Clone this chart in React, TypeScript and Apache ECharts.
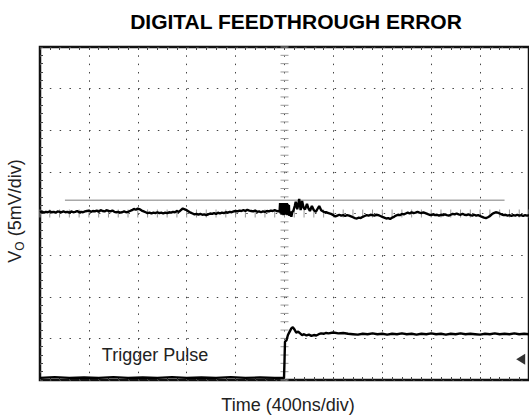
import React, { useEffect, useRef } from "react";
import * as echarts from "echarts";

// x in divisions (400 ns/div), y in divisions (5 mV/div), bottom of screen = 0
const voTrace: number[][] = [
  [0.00,4.03],[0.04,4.05],[0.08,4.02],[0.12,4.04],[0.16,4.03],[0.20,4.05],[0.24,4.03],[0.28,4.04],[0.32,4.02],[0.36,4.05],
  [0.40,4.04],[0.44,4.03],[0.48,4.05],[0.52,4.03],[0.56,4.04],[0.60,4.02],[0.64,4.05],[0.68,4.03],[0.72,4.04],[0.76,4.06],
  [0.80,4.03],[0.84,4.04],[0.88,4.03],[0.92,4.05],[0.96,4.06],[1.00,4.07],[1.04,4.04],[1.08,4.06],[1.12,4.05],[1.16,4.07],
  [1.20,4.04],[1.24,4.08],[1.28,4.06],[1.32,4.05],[1.36,4.08],[1.40,4.06],[1.44,4.05],[1.48,4.07],[1.52,4.04],[1.56,4.03],
  [1.60,4.04],[1.64,4.02],[1.68,4.03],[1.72,4.05],[1.76,4.03],[1.80,4.04],[1.84,4.06],[1.88,4.08],[1.92,4.11],[1.96,4.09],
  [2.00,4.12],[2.04,4.10],[2.08,4.07],[2.12,4.05],[2.16,4.03],[2.20,4.01],[2.24,4.02],[2.28,4.00],[2.32,4.02],[2.36,4.01],
  [2.40,4.03],[2.44,4.01],[2.48,4.02],[2.52,4.00],[2.56,4.02],[2.60,4.01],[2.64,4.03],[2.68,4.02],[2.72,4.04],[2.76,4.03],
  [2.80,4.06],[2.84,4.04],[2.88,4.08],[2.92,4.12],[2.96,4.10],[3.00,4.08],[3.04,4.05],[3.08,4.02],[3.12,4.00],[3.16,3.98],
  [3.20,3.99],[3.24,3.97],[3.28,3.99],[3.32,3.97],[3.36,3.98],[3.40,3.96],[3.44,3.98],[3.48,4.00],[3.52,3.99],[3.56,4.01],
  [3.60,3.99],[3.64,4.02],[3.68,4.00],[3.72,4.02],[3.76,4.01],[3.80,4.03],[3.84,4.02],[3.88,4.04],[3.92,4.03],[3.96,4.05],
  [4.00,4.06],[4.04,4.05],[4.08,4.07],[4.12,4.06],[4.16,4.08],[4.20,4.06],[4.24,4.09],[4.28,4.07],[4.32,4.06],[4.36,4.05],
  [4.40,4.07],[4.44,4.04],[4.48,4.05],[4.52,4.03],[4.56,4.05],[4.60,4.04],[4.64,4.06],[4.68,4.05],[4.72,4.07],[4.76,4.06],
  [4.80,4.08],[4.84,4.06],[4.88,4.05],[4.90,4.06],
  [4.91,4.25],[4.92,4.00],[4.93,4.25],[4.94,3.97],[4.95,4.24],[4.96,4.02],[4.97,4.25],[4.98,3.96],[4.99,4.24],[5.00,4.00],
  [5.01,4.25],[5.02,3.97],[5.03,4.23],[5.04,4.01],[5.05,4.25],[5.06,3.96],[5.07,4.22],[5.08,3.98],[5.09,4.20],[5.10,3.94],
  [5.12,4.05],[5.14,3.92],[5.16,4.04],
  [5.18,4.06],[5.21,4.18],[5.23,4.28],[5.26,4.10],[5.28,4.20],[5.30,4.35],[5.33,4.08],[5.36,4.30],[5.39,4.14],[5.42,4.10],
  [5.46,4.23],[5.49,4.12],[5.52,4.06],[5.56,4.18],[5.60,4.08],[5.64,4.04],[5.68,4.12],[5.71,4.18],[5.75,4.08],[5.80,4.04],
  [5.85,4.03],[5.90,4.01],[5.95,3.99],[6.00,3.96],[6.04,3.93],
  [6.08,3.95],[6.12,3.97],[6.16,3.95],[6.20,3.96],[6.24,3.94],[6.28,3.96],[6.32,3.95],[6.36,3.93],[6.40,3.91],[6.44,3.89],
  [6.48,3.88],[6.52,3.90],[6.56,3.89],[6.60,3.92],[6.64,3.94],[6.68,3.96],[6.72,3.95],[6.76,3.97],[6.80,3.96],[6.84,3.95],
  [6.88,3.97],[6.92,3.96],[6.96,3.94],[7.00,3.92],[7.04,3.90],[7.08,3.88],[7.12,3.89],[7.16,3.87],[7.20,3.90],[7.24,3.92],
  [7.28,3.95],[7.32,3.97],[7.36,3.96],[7.40,3.99],[7.44,3.98],[7.48,4.00],[7.52,4.02],[7.56,4.00],[7.60,4.03],[7.64,4.01],
  [7.68,4.02],[7.72,4.04],[7.76,4.02],[7.80,4.01],[7.84,4.03],[7.88,4.01],[7.92,3.99],[7.96,3.97],[8.00,3.96],[8.04,3.98],
  [8.08,3.96],[8.12,3.97],[8.16,3.95],[8.20,3.97],[8.24,3.96],[8.28,3.98],[8.32,3.96],[8.36,3.95],[8.40,3.97],[8.44,3.99],
  [8.48,3.98],[8.52,4.00],[8.56,3.98],[8.60,3.97],[8.64,3.99],[8.68,3.97],[8.72,3.96],[8.76,3.98],[8.80,3.96],[8.84,3.95],
  [8.88,3.97],[8.92,3.95],[8.96,3.96],[9.00,3.94],[9.04,3.92],[9.08,3.90],[9.12,3.89],[9.16,3.91],[9.20,3.94],[9.24,3.98],
  [9.28,4.01],[9.32,4.03],[9.36,4.02],[9.40,4.00],[9.44,3.98],[9.48,3.96],[9.52,3.97],[9.56,3.95],[9.60,3.96],[9.64,3.94],
  [9.68,3.96],[9.72,3.95],[9.76,3.97],[9.80,3.95],[9.84,3.96],[9.88,3.94],[9.92,3.96],[9.96,3.95],[10.00,3.96],
];

const triggerTrace: number[][] = [
  [0.0,0.05],[0.3,0.07],[0.6,0.05],[0.9,0.06],[1.2,0.05],[1.5,0.07],[1.8,0.05],[2.1,0.06],[2.4,0.05],[2.7,0.07],
  [3.0,0.05],[3.3,0.06],[3.6,0.05],[3.9,0.07],[4.2,0.05],[4.5,0.06],[4.8,0.05],[4.99,0.05],
  [5.00,0.45],[5.01,0.92],[5.04,0.95],[5.07,1.08],[5.10,1.15],[5.14,1.24],[5.17,1.27],[5.20,1.22],[5.24,1.14],[5.28,1.16],
  [5.32,1.12],[5.36,1.08],[5.40,1.10],[5.45,1.07],[5.50,1.09],[5.55,1.06],[5.60,1.08],[5.65,1.07],[5.70,1.10],[5.75,1.12],
  [5.80,1.11],[5.85,1.13],[5.90,1.12],[6.0,1.14],[6.1,1.12],[6.2,1.13],[6.3,1.11],[6.4,1.10],[6.5,1.09],[6.6,1.11],
  [6.7,1.10],[6.8,1.12],[6.9,1.10],[7.0,1.11],[7.1,1.09],[7.2,1.11],[7.3,1.10],[7.4,1.12],[7.5,1.10],[7.6,1.11],
  [7.7,1.09],[7.8,1.11],[7.9,1.10],[8.0,1.12],[8.1,1.10],[8.2,1.11],[8.3,1.09],[8.4,1.11],[8.5,1.10],[8.6,1.12],
  [8.7,1.10],[8.8,1.11],[8.9,1.10],[9.0,1.09],[9.1,1.11],[9.2,1.10],[9.3,1.12],[9.4,1.10],[9.5,1.11],[9.6,1.10],
  [9.7,1.12],[9.8,1.10],[9.9,1.11],[10.0,1.10],
];

const referenceLine: number[][] = [[0.51, 4.32], [9.5, 4.32]];
const groundMarker: number[][] = [[9.83, 0.5]];
const screenCenter: number[][] = [[5, 4]];

const TITLE = "DIGITAL FEEDTHROUGH ERROR";
const X_LABEL = "Time (400ns/div)";
const TRIGGER_LABEL = "Trigger Pulse";

const FONT = "'Liberation Sans', Arial, Helvetica, sans-serif";

export default function App() {
  const ref = useRef<HTMLDivElement>(null);
  useEffect(() => {
    if (!ref.current) return;
    const chart = echarts.init(ref.current, null, { renderer: "svg" });
    const option: any = {
      animation: false,
      backgroundColor: "#fff",
      grid: {
        left: 40,
        top: 47,
        width: 491,
        height: 333,
        show: true,
        borderColor: "#111",
        borderWidth: 2.5,
        backgroundColor: "transparent",
      },
      xAxis: [
        {
          type: "value",
          min: 0,
          max: 10,
          interval: 1,
          position: "bottom",
          axisLine: { show: false },
          axisLabel: { show: false },
          axisTick: { show: true, inside: true, length: 3, lineStyle: { color: "#444" } },
          minorTick: { show: true, splitNumber: 5, length: 3, lineStyle: { color: "#444" } },
          splitLine: { show: true, lineStyle: { color: "#444", width: 1, type: [1.5, 6.825] } },
        },
        {
          type: "value",
          min: 0,
          max: 10,
          interval: 1,
          position: "top",
          axisLine: { show: false },
          axisLabel: { show: false },
          axisTick: { show: true, inside: true, length: 3, lineStyle: { color: "#444" } },
          minorTick: { show: true, splitNumber: 5, length: 3, lineStyle: { color: "#444" } },
          splitLine: { show: false },
        },
      ],
      yAxis: {
        type: "value",
        min: 0,
        max: 8,
        interval: 1,
        axisLine: { show: false },
        axisLabel: { show: false },
        axisTick: { show: true, inside: true, length: 3, lineStyle: { color: "#444" } },
        minorTick: { show: true, splitNumber: 5, length: 3, lineStyle: { color: "#444" } },
        splitLine: { show: true, lineStyle: { color: "#444", width: 1, type: [1.5, 8.32] } },
      },
      series: [
        {
          type: "custom",
          data: screenCenter,
          silent: true,
          z: 1,
          renderItem: (params: any, api: any) => {
            const cx = api.value(0);
            const cy = api.value(1);
            const children: any[] = [];
            for (let i = 0; i <= 40; i++) {
              const p = api.coord([cx, i * 0.2]);
              children.push({
                type: "line",
                shape: { x1: p[0] - 4, y1: p[1], x2: p[0] + 4, y2: p[1] },
                style: { stroke: "#999", lineWidth: 1 },
              });
            }
            for (let i = 0; i <= 50; i++) {
              const p = api.coord([i * 0.2, cy]);
              children.push({
                type: "line",
                shape: { x1: p[0], y1: p[1] - 4, x2: p[0], y2: p[1] + 4 },
                style: { stroke: "#999", lineWidth: 1 },
              });
            }
            return { type: "group", children };
          },
        },
        {
          type: "line",
          data: referenceLine,
          showSymbol: false,
          lineStyle: { color: "#a8a8a8", width: 1.5 },
          z: 2,
        },
        {
          type: "line",
          data: voTrace,
          showSymbol: false,
          lineStyle: { color: "#000", width: 2.4 },
          z: 3,
        },
        {
          type: "line",
          data: triggerTrace,
          showSymbol: false,
          lineStyle: { color: "#000", width: 2.4 },
          z: 3,
        },
        {
          type: "scatter",
          data: groundMarker,
          symbol: "triangle",
          symbolRotate: 90,
          symbolSize: [11, 9],
          itemStyle: { color: "#000" },
          z: 4,
        },
      ],
      graphic: [
        {
          type: "text",
          x: 296,
          y: 21.5,
          style: {
            text: TITLE,
            font: `bold 21px ${FONT}`,
            fill: "#000",
            textAlign: "center",
            textVerticalAlign: "middle",
          },
        },
        {
          type: "text",
          x: 288,
          y: 404.5,
          style: {
            text: X_LABEL,
            font: `18px ${FONT}`,
            fill: "#222",
            textAlign: "center",
            textVerticalAlign: "middle",
          },
        },
        {
          type: "text",
          x: 155,
          y: 354.5,
          z: 10,
          style: {
            text: TRIGGER_LABEL,
            font: `18px ${FONT}`,
            fill: "#222",
            textAlign: "center",
            textVerticalAlign: "middle",
          },
        },
        {
          type: "text",
          x: 15,
          y: 211,
          rotation: Math.PI / 2,
          style: {
            text: "{a|V}{b|O}{a| (5mV/div)}",
            fill: "#222",
            textAlign: "center",
            textVerticalAlign: "middle",
            rich: {
              a: { fontFamily: FONT, fontSize: 18, fill: "#222", lineHeight: 22, verticalAlign: "middle" },
              b: { fontFamily: FONT, fontSize: 12, fill: "#222", lineHeight: 22, verticalAlign: "bottom", padding: [8, 0, 0, 0] },
            },
          },
        },
      ],
    };
    chart.setOption(option);
    return () => chart.dispose();
  }, []);
  return (
    <div
      ref={ref}
      style={{ position: "absolute", left: 0, top: 0, width: 529, height: 417, background: "#fff" }}
    />
  );
}
